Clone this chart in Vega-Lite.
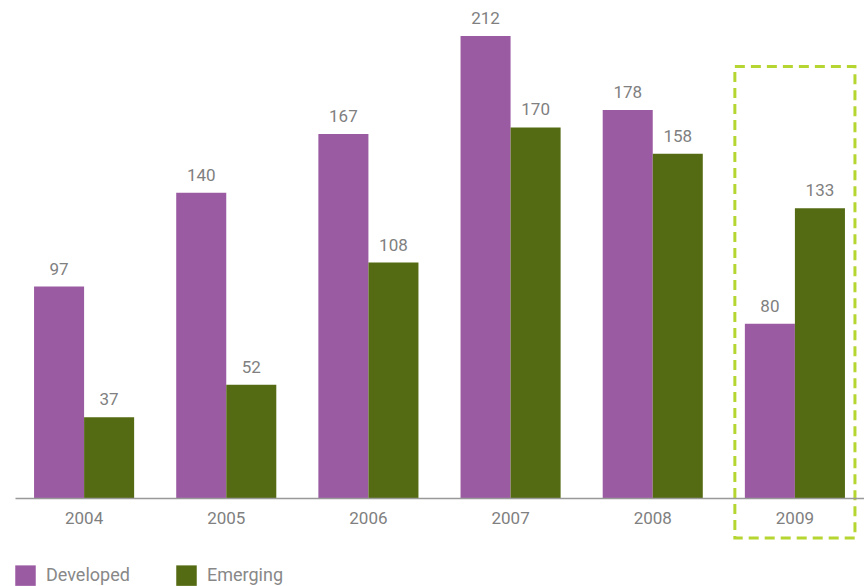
{
  "$schema": "https://vega.github.io/schema/vega-lite/v6.json",
  "autosize": "none",
  "width": 849,
  "height": 493,
  "padding": {"left": 15, "top": 5, "right": 0, "bottom": 88},
  "background": "white",
  "config": {
    "view": {"stroke": null},
    "font": "Roboto"
  },
  "datasets": {
    "bars": [
      {"year": "2004", "type": "Developed", "value": 97},
      {"year": "2004", "type": "Emerging", "value": 37},
      {"year": "2005", "type": "Developed", "value": 140},
      {"year": "2005", "type": "Emerging", "value": 52},
      {"year": "2006", "type": "Developed", "value": 167},
      {"year": "2006", "type": "Emerging", "value": 108},
      {"year": "2007", "type": "Developed", "value": 212},
      {"year": "2007", "type": "Emerging", "value": 170},
      {"year": "2008", "type": "Developed", "value": 178},
      {"year": "2008", "type": "Emerging", "value": 158},
      {"year": "2009", "type": "Developed", "value": 80},
      {"year": "2009", "type": "Emerging", "value": 133}
    ],
    "box": [{"year": "2009", "top": 198, "bottom": -18.4}]
  },
  "encoding": {
    "x": {
      "field": "year", "type": "ordinal",
      "scale": {"paddingInner": 0.296, "paddingOuter": 0.134},
      "axis": {
        "title": null, "labelAngle": 0, "ticks": false, "grid": false,
        "domainColor": "#999999", "domainWidth": 1.5,
        "labelFontSize": 17, "labelColor": "#808080", "labelPadding": 12, "labelFont": "Roboto"
      }
    },
    "y": {
      "type": "quantitative",
      "scale": {"domain": [0, 226.2], "nice": false, "zero": true},
      "axis": null
    }
  },
  "layer": [
    {
      "data": {"name": "box"},
      "mark": {"type": "rect", "fill": null, "stroke": "#b5d530", "strokeWidth": 3, "strokeDash": [10, 6], "width": {"band": 1.2}},
      "encoding": {
        "y": {"field": "top", "type": "quantitative"},
        "y2": {"field": "bottom"}
      }
    },
    {
      "data": {"name": "bars"},
      "mark": {"type": "bar"},
      "encoding": {
        "xOffset": {"field": "type", "type": "nominal", "scale": {"paddingInner": 0, "paddingOuter": 0}},
        "y": {"field": "value", "type": "quantitative"},
        "color": {
          "field": "type", "type": "nominal",
          "scale": {"domain": ["Developed", "Emerging"], "range": ["#9b5ba3", "#556b13"]},
          "legend": {
            "orient": "none", "legendX": 0, "legendY": 560, "direction": "horizontal",
            "title": null, "symbolType": "square", "symbolSize": 420, "symbolStrokeWidth": 0,
            "labelFontSize": 18, "labelColor": "#888888", "labelFont": "Roboto",
            "columnPadding": 46, "labelOffset": 10
          }
        }
      }
    },
    {
      "data": {"name": "bars"},
      "mark": {"type": "text", "baseline": "bottom", "dy": -8, "fontSize": 17, "color": "#808080"},
      "encoding": {
        "xOffset": {"field": "type", "type": "nominal", "scale": {"paddingInner": 0, "paddingOuter": 0}},
        "y": {"field": "value", "type": "quantitative"},
        "text": {"field": "value", "type": "quantitative"}
      }
    }
  ]
}
